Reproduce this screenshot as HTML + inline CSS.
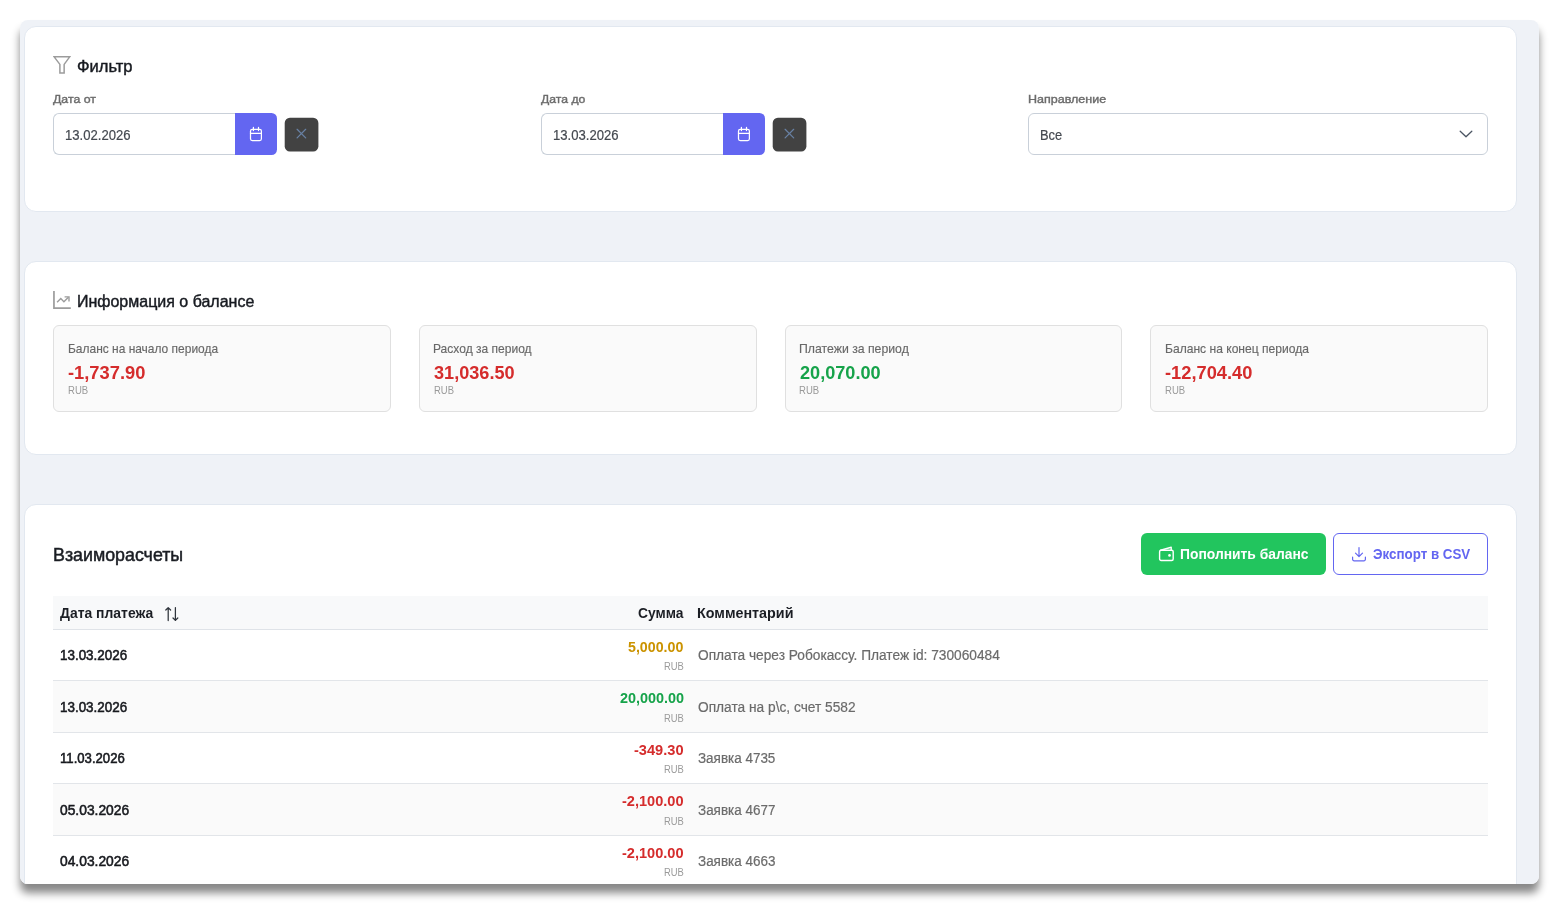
<!DOCTYPE html>
<html lang="ru">
<head>
<meta charset="utf-8">
<title>Взаиморасчеты</title>
<style>
*{box-sizing:border-box;margin:0;padding:0}
html,body{width:1559px;height:912px;overflow:hidden;background:#fff}
body{font-family:"Liberation Sans",sans-serif;position:relative}
.shadow{position:absolute;left:20px;top:20px;width:1519px;height:864px;border-radius:8px;box-shadow:0 9px 9px rgba(0,0,0,.47)}
.clip{position:absolute;left:0;top:0;width:1559px;height:912px;background:#eff2f7;clip-path:inset(20px 20px 28px 20px round 8px)}
.clip>*{position:absolute}
.t{white-space:nowrap;line-height:1;display:block}
.card{background:#fff;border:1px solid #e2e8f0;border-radius:12px}
.inp{border:1px solid #c9d0d9;border-right:0;border-radius:6px 0 0 6px;background:#fff}
.cal{background:#6366f1;border-radius:0 5.5px 5.5px 0}
.clr{background:#424242;border-radius:6px}
.sel{border:1px solid #c9d0d9;border-radius:6px;background:#fff}
.stat{background:#fafafa;border:1px solid #e0e0e0;border-radius:6px}
.btn{border-radius:6px}
.b1{background:#22c55e}
.b2{background:#fff;border:1px solid #6366f1}
.thead{background:#f8f9fa;border-bottom:1px solid #dfe3e8}
.row{border-bottom:1px solid #e2e5e9;background:#fff}
.row.alt{background:#fafafa}
svg{display:block}
</style>
</head>
<body>
<div class="shadow"></div>
<div class="clip">
<div class="card" style="left:24px;top:26px;width:1493px;height:186px;"></div>
<div class="card" style="left:24px;top:261px;width:1493px;height:194px;"></div>
<div class="card" style="left:24px;top:504px;width:1493px;height:426px;"></div>
<div class="inp" style="left:53px;top:113px;width:183px;height:42px;"></div>
<div class="cal" style="left:235px;top:113px;width:42px;height:42px;"><svg width="42" height="42" viewBox="0 0 42 42" fill="none" stroke="#fff" stroke-width="1.25" stroke-linecap="round"><rect x="15.5" y="16.3" width="10.9" height="11.2" rx="1.8"/><path d="M15.5 20.4h10.9M18.4 14.4v3.2M23.5 14.4v3.2"/></svg></div>
<svg class="ico" style="left:284px;top:116px" width="36" height="37" viewBox="0 0 36 37"><rect x="0.7" y="1.8" width="33.7" height="33.6" rx="5.2" fill="#424242"/><path d="M13.1 13.3l8.6 8.6M21.7 13.3l-8.6 8.6" fill="none" stroke="#6880a3" stroke-width="1.25" stroke-linecap="round"/></svg>
<div class="inp" style="left:541px;top:113px;width:183px;height:42px;"></div>
<div class="cal" style="left:723px;top:113px;width:42px;height:42px;"><svg width="42" height="42" viewBox="0 0 42 42" fill="none" stroke="#fff" stroke-width="1.25" stroke-linecap="round"><rect x="15.5" y="16.3" width="10.9" height="11.2" rx="1.8"/><path d="M15.5 20.4h10.9M18.4 14.4v3.2M23.5 14.4v3.2"/></svg></div>
<svg class="ico" style="left:772px;top:116px" width="36" height="37" viewBox="0 0 36 37"><rect x="0.7" y="1.8" width="33.7" height="33.6" rx="5.2" fill="#424242"/><path d="M13.1 13.3l8.6 8.6M21.7 13.3l-8.6 8.6" fill="none" stroke="#6880a3" stroke-width="1.25" stroke-linecap="round"/></svg>
<div class="sel" style="left:1028px;top:113px;width:460px;height:42px;"><svg style="position:absolute;right:14px;top:16px" width="14" height="8" viewBox="0 0 14 8" fill="none" stroke="#4b5563" stroke-width="1.3" stroke-linecap="round" stroke-linejoin="round"><path d="M1.2 1.2L7 6.8l5.8-5.6"/></svg></div>
<svg class="ico" style="left:53px;top:56px" width="18" height="18" viewBox="0 0 18 18" fill="none" stroke="#9c9c9c" stroke-width="1.5" stroke-linejoin="miter"><path d="M1.2 0.85H16.7L11.15 8.4V17.1H6.9V8.4Z"/></svg>
<svg class="ico" style="left:53px;top:291px" width="19" height="19" viewBox="0 0 19 19" fill="none" stroke="#9c9c9c" stroke-width="1.5" stroke-linejoin="miter"><path d="M0.95 0.1V17.1H17.8" stroke-width="1.7"/><path d="M4.1 11.3L7.8 7.6L10.9 10.7L15.4 6.2" stroke-width="1.4"/><path d="M11.6 5.85H16V10.6" stroke-width="1.4"/></svg>
<div class="stat" style="left:53px;top:325px;width:338px;height:87px;"></div>
<div class="stat" style="left:419px;top:325px;width:338px;height:87px;"></div>
<div class="stat" style="left:785px;top:325px;width:337px;height:87px;"></div>
<div class="stat" style="left:1150px;top:325px;width:338px;height:87px;"></div>
<div class="btn b1" style="left:1141px;top:533px;width:185px;height:42px;"><svg style="position:absolute;left:17px;top:13px" width="16" height="16" viewBox="0 0 16 16" fill="none" stroke="#fff" stroke-width="1.4" stroke-linejoin="round" stroke-linecap="round"><rect x="1.6" y="4.2" width="13.6" height="10.3" rx="1.5"/><path d="M2.6 4.2L13.2 1.3V4.2"/><circle cx="11.5" cy="9.4" r="1.3" fill="#fff" stroke="none"/></svg></div>
<div class="btn b2" style="left:1333px;top:533px;width:155px;height:42px;"><svg style="position:absolute;left:17px;top:12px" width="16" height="16" viewBox="0 0 16 16" fill="none" stroke="#6366f1" stroke-width="1.2" stroke-linejoin="round" stroke-linecap="round"><path d="M8 1.5v9M4.5 7.2L8 10.7l3.5-3.5M1.6 11v2.3a1.5 1.5 0 0 0 1.5 1.5h9.8a1.5 1.5 0 0 0 1.5-1.5V11"/></svg></div>
<div class="thead" style="left:53px;top:596px;width:1435px;height:34px;"></div>
<div class="row" style="left:53px;top:630px;width:1435px;height:51px;"></div>
<div class="row alt" style="left:53px;top:681px;width:1435px;height:52px;"></div>
<div class="row" style="left:53px;top:733px;width:1435px;height:51px;"></div>
<div class="row alt" style="left:53px;top:784px;width:1435px;height:52px;"></div>
<div class="row" style="left:53px;top:836px;width:1435px;height:52px;"></div>
<svg class="ico" style="left:164px;top:606px" width="16" height="16" viewBox="0 0 16 16" fill="none" stroke="#2f343b" stroke-width="1.25" stroke-linecap="round" stroke-linejoin="round"><path d="M4.2 14.5V1.6M1.8 4l2.4-2.4L6.6 4M11.4 1.5v12.9M9 12l2.4 2.4 2.4-2.4"/></svg>
<span class="t" id="t1" style="left:77px;top:58.79px;font-size:15.6px;font-weight:400;color:#171a20;transform:scaleX(1.0593);transform-origin:0 50%;-webkit-text-stroke:0.42px #171a20">Фильтр</span>
<span class="t" id="l1" style="left:53px;top:94.11px;font-size:11.8px;font-weight:400;color:#6b6b6b;transform:scaleX(1.0455);transform-origin:0 50%;-webkit-text-stroke:0.4px #6b6b6b">Дата от</span>
<span class="t" id="l2" style="left:541px;top:94.11px;font-size:11.8px;font-weight:400;color:#6b6b6b;transform:scaleX(1.0334);transform-origin:0 50%;-webkit-text-stroke:0.4px #6b6b6b">Дата до</span>
<span class="t" id="l3" style="left:1028px;top:94.11px;font-size:11.8px;font-weight:400;color:#6b6b6b;transform:scaleX(1.0604);transform-origin:0 50%;-webkit-text-stroke:0.4px #6b6b6b">Направление</span>
<span class="t" id="i1" style="left:65px;top:128.15px;font-size:14px;font-weight:400;color:#444950;transform:scaleX(0.9369);transform-origin:0 50%;-webkit-text-stroke:0.2px #444950">13.02.2026</span>
<span class="t" id="i2" style="left:553px;top:128.15px;font-size:14px;font-weight:400;color:#444950;transform:scaleX(0.9369);transform-origin:0 50%;-webkit-text-stroke:0.2px #444950">13.03.2026</span>
<span class="t" id="i3" style="left:1040px;top:128.15px;font-size:14px;font-weight:400;color:#444950;transform:scaleX(0.9212);transform-origin:0 50%;-webkit-text-stroke:0.2px #444950">Все</span>
<span class="t" id="t2" style="left:77px;top:293.79px;font-size:15.6px;font-weight:400;color:#171a20;transform:scaleX(1.0254);transform-origin:0 50%;-webkit-text-stroke:0.42px #171a20">Информация о балансе</span>
<span class="t" id="sl0" style="left:68px;top:342.97px;font-size:12.2px;font-weight:400;color:#686868;transform:scaleX(0.9815);transform-origin:0 50%;-webkit-text-stroke:0.15px #686868">Баланс на начало периода</span>
<span class="t" id="sv0" style="left:68px;top:365.02px;font-size:17.7px;font-weight:700;color:#d52c2c;transform:scaleX(1.0350);transform-origin:0 50%">-1,737.90</span>
<span class="t" id="su0" style="left:68px;top:385.11px;font-size:10.5px;font-weight:400;color:#999999;transform:scaleX(0.9100);transform-origin:0 50%">RUB</span>
<span class="t" id="sl1" style="left:433px;top:342.97px;font-size:12.2px;font-weight:400;color:#686868;transform:scaleX(0.9868);transform-origin:0 50%;-webkit-text-stroke:0.15px #686868">Расход за период</span>
<span class="t" id="sv1" style="left:434px;top:365.02px;font-size:17.7px;font-weight:700;color:#d52c2c;transform:scaleX(1.0236);transform-origin:0 50%">31,036.50</span>
<span class="t" id="su1" style="left:434px;top:385.11px;font-size:10.5px;font-weight:400;color:#999999;transform:scaleX(0.9004);transform-origin:0 50%">RUB</span>
<span class="t" id="sl2" style="left:799px;top:342.97px;font-size:12.2px;font-weight:400;color:#686868;transform:scaleX(1.0060);transform-origin:0 50%;-webkit-text-stroke:0.15px #686868">Платежи за период</span>
<span class="t" id="sv2" style="left:800px;top:365.02px;font-size:17.7px;font-weight:700;color:#16a34a;transform:scaleX(1.0248);transform-origin:0 50%">20,070.00</span>
<span class="t" id="su2" style="left:799px;top:385.11px;font-size:10.5px;font-weight:400;color:#999999;transform:scaleX(0.9100);transform-origin:0 50%">RUB</span>
<span class="t" id="sl3" style="left:1165px;top:342.97px;font-size:12.2px;font-weight:400;color:#686868;transform:scaleX(0.9912);transform-origin:0 50%;-webkit-text-stroke:0.15px #686868">Баланс на конец периода</span>
<span class="t" id="sv3" style="left:1165px;top:365.02px;font-size:17.7px;font-weight:700;color:#d52c2c;transform:scaleX(1.0334);transform-origin:0 50%">-12,704.40</span>
<span class="t" id="su3" style="left:1165px;top:385.11px;font-size:10.5px;font-weight:400;color:#999999;transform:scaleX(0.9100);transform-origin:0 50%">RUB</span>
<span class="t" id="h3" style="left:53px;top:545.56px;font-size:18px;font-weight:400;color:#1a1d23;transform:scaleX(0.9898);transform-origin:0 50%;-webkit-text-stroke:0.5px #1a1d23">Взаиморасчеты</span>
<span class="t" id="b1" style="left:1180px;top:547.15px;font-size:14px;font-weight:700;color:#ffffff;transform:scaleX(0.9889);transform-origin:0 50%">Пополнить баланс</span>
<span class="t" id="b2" style="left:1373px;top:547.15px;font-size:14px;font-weight:700;color:#6366f1;transform:scaleX(0.9539);transform-origin:0 50%">Экспорт в CSV</span>
<span class="t" id="th1" style="left:60px;top:606.25px;font-size:14px;font-weight:700;color:#1b1e24;transform:scaleX(0.9945);transform-origin:0 50%">Дата платежа</span>
<span class="t" id="th2" style="left:638px;top:606.25px;font-size:14px;font-weight:700;color:#1b1e24;transform:scaleX(0.9873);transform-origin:0 50%">Сумма</span>
<span class="t" id="th3" style="left:697px;top:606.25px;font-size:14px;font-weight:700;color:#1b1e24;transform:scaleX(1.0230);transform-origin:0 50%">Комментарий</span>
<span class="t" id="d0" style="left:60px;top:648.15px;font-size:14px;font-weight:400;color:#17191e;transform:scaleX(0.9582);transform-origin:0 50%;-webkit-text-stroke:0.55px #17191e">13.03.2026</span>
<span class="t" id="s0" style="left:628px;top:639.75px;font-size:14px;font-weight:700;color:#cb9300;transform:scaleX(1.0146);transform-origin:0 50%">5,000.00</span>
<span class="t" id="u0" style="left:664px;top:660.91px;font-size:10.5px;font-weight:400;color:#9a9a9a;transform:scaleX(0.8955);transform-origin:0 50%">RUB</span>
<span class="t" id="c0" style="left:698px;top:648.35px;font-size:14px;font-weight:400;color:#6b6b6b;transform:scaleX(0.9793);transform-origin:0 50%;-webkit-text-stroke:0.2px #6b6b6b">Оплата через Робокассу. Платеж id: 730060484</span>
<span class="t" id="d1" style="left:60px;top:700.15px;font-size:14px;font-weight:400;color:#17191e;transform:scaleX(0.9582);transform-origin:0 50%;-webkit-text-stroke:0.55px #17191e">13.03.2026</span>
<span class="t" id="s1" style="left:620px;top:690.75px;font-size:14px;font-weight:700;color:#16a34a;transform:scaleX(1.0298);transform-origin:0 50%">20,000.00</span>
<span class="t" id="u1" style="left:664px;top:712.81px;font-size:10.5px;font-weight:400;color:#9a9a9a;transform:scaleX(0.8957);transform-origin:0 50%">RUB</span>
<span class="t" id="c1" style="left:698px;top:700.35px;font-size:14px;font-weight:400;color:#6b6b6b;transform:scaleX(0.9798);transform-origin:0 50%;-webkit-text-stroke:0.2px #6b6b6b">Оплата на р\с, счет 5582</span>
<span class="t" id="d2" style="left:60px;top:751.15px;font-size:14px;font-weight:400;color:#17191e;transform:scaleX(0.9384);transform-origin:0 50%;-webkit-text-stroke:0.55px #17191e">11.03.2026</span>
<span class="t" id="s2" style="left:634px;top:742.75px;font-size:14px;font-weight:700;color:#d52c2c;transform:scaleX(1.0434);transform-origin:0 50%">-349.30</span>
<span class="t" id="u2" style="left:664px;top:763.91px;font-size:10.5px;font-weight:400;color:#9a9a9a;transform:scaleX(0.8955);transform-origin:0 50%">RUB</span>
<span class="t" id="c2" style="left:698px;top:751.35px;font-size:14px;font-weight:400;color:#6b6b6b;transform:scaleX(0.9606);transform-origin:0 50%;-webkit-text-stroke:0.2px #6b6b6b">Заявка 4735</span>
<span class="t" id="d3" style="left:60px;top:803.15px;font-size:14px;font-weight:400;color:#17191e;transform:scaleX(0.9871);transform-origin:0 50%;-webkit-text-stroke:0.55px #17191e">05.03.2026</span>
<span class="t" id="s3" style="left:622px;top:793.75px;font-size:14px;font-weight:700;color:#d52c2c;transform:scaleX(1.0407);transform-origin:0 50%">-2,100.00</span>
<span class="t" id="u3" style="left:664px;top:815.81px;font-size:10.5px;font-weight:400;color:#9a9a9a;transform:scaleX(0.8957);transform-origin:0 50%">RUB</span>
<span class="t" id="c3" style="left:698px;top:803.35px;font-size:14px;font-weight:400;color:#6b6b6b;transform:scaleX(0.9610);transform-origin:0 50%;-webkit-text-stroke:0.2px #6b6b6b">Заявка 4677</span>
<span class="t" id="d4" style="left:60px;top:854.15px;font-size:14px;font-weight:400;color:#17191e;transform:scaleX(0.9871);transform-origin:0 50%;-webkit-text-stroke:0.55px #17191e">04.03.2026</span>
<span class="t" id="s4" style="left:622px;top:845.75px;font-size:14px;font-weight:700;color:#d52c2c;transform:scaleX(1.0407);transform-origin:0 50%">-2,100.00</span>
<span class="t" id="u4" style="left:664px;top:866.91px;font-size:10.5px;font-weight:400;color:#9a9a9a;transform:scaleX(0.8955);transform-origin:0 50%">RUB</span>
<span class="t" id="c4" style="left:698px;top:854.35px;font-size:14px;font-weight:400;color:#6b6b6b;transform:scaleX(0.9610);transform-origin:0 50%;-webkit-text-stroke:0.2px #6b6b6b">Заявка 4663</span>
</div>
</body>
</html>
